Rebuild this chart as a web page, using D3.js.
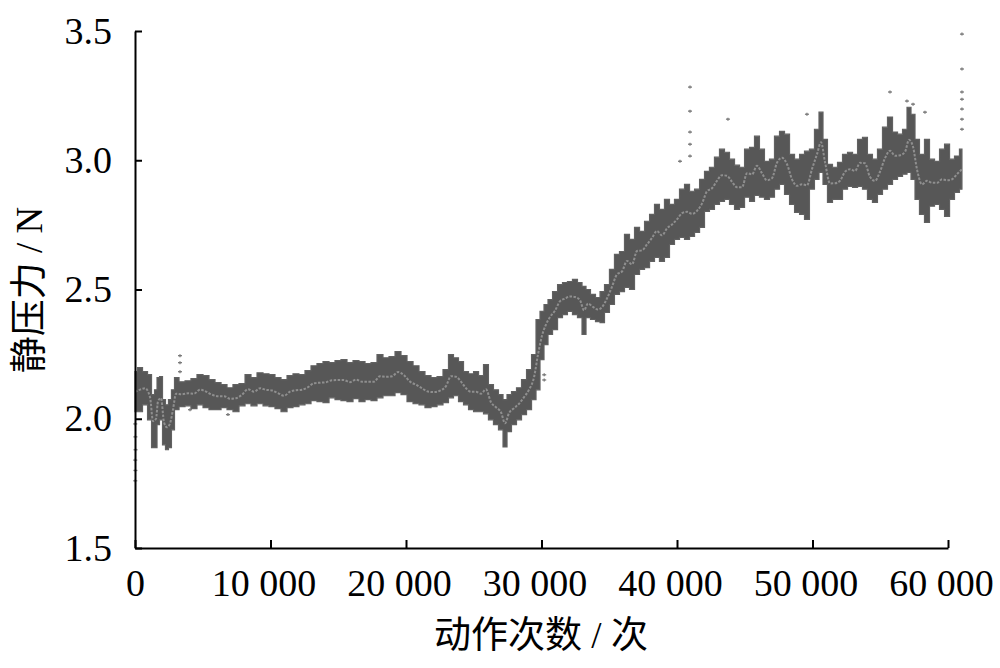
<!DOCTYPE html>
<html>
<head>
<meta charset="utf-8">
<script src="https://cdn.jsdelivr.net/npm/d3@7"></script>
<style>
  html, body { margin: 0; padding: 0; background: #fff; }
  svg { display: block; }
  .lat { font-family: "Liberation Serif", "Times New Roman", "Noto Sans CJK SC", serif; }
</style>
</head>
<body>
<svg id="chart" width="1000" height="668"></svg>
<script>
// ---- data ----
const actionCounts = [0,370,740,1110,1330,1550,1700,1920,2140,2360,2580,2800,3030,3470,3910,4350,4800,5240,5680,6130,6570,7010,7450,7900,8340,8780,9230,9670,10110,10550,11000,11440,11880,12320,12770,13210,13650,14100,14540,14980,15420,15870,16310,16750,17200,17640,18080,18520,18970,19410,19850,20300,20740,21180,21620,22070,22510,22950,23320,23690,24060,24430,24800,25170,25540,25900,26270,26640,27010,27310,27600,27970,28340,28710,29080,29450,29740,30040,30330,30630,31000,31370,31730,32100,32470,32840,33140,33430,33800,34170,34470,34830,35200,35570,35940,36310,36680,37050,37420,37790,38160,38520,38890,39260,39630,40000,40370,40740,41110,41480,41850,42210,42580,42950,43320,43690,44060,44430,44800,45170,45540,45900,46270,46640,47010,47380,47750,48120,48490,48860,49230,49590,49960,50330,50630,50920,51290,51660,52030,52400,52770,53140,53510,53870,54240,54610,54980,55350,55720,56090,56460,56830,57120,57420,57710,58080,58450,58820,59190,59560,59930,60300,60660,61030];

const upperForce = [2.182,2.198,2.182,2.171,2.093,2.112,2.159,2.163,2.074,2.054,2.074,2.112,2.159,2.143,2.147,2.155,2.171,2.167,2.151,2.140,2.132,2.120,2.132,2.136,2.171,2.159,2.178,2.174,2.171,2.159,2.151,2.167,2.174,2.171,2.186,2.205,2.213,2.221,2.217,2.225,2.229,2.217,2.225,2.221,2.213,2.217,2.248,2.236,2.240,2.260,2.244,2.221,2.205,2.182,2.167,2.159,2.163,2.190,2.248,2.236,2.221,2.182,2.174,2.182,2.167,2.209,2.132,2.112,2.093,2.074,2.093,2.105,2.120,2.151,2.190,2.248,2.384,2.415,2.442,2.461,2.492,2.519,2.527,2.531,2.539,2.527,2.512,2.500,2.481,2.469,2.492,2.519,2.578,2.636,2.647,2.713,2.694,2.740,2.725,2.764,2.791,2.829,2.810,2.849,2.829,2.849,2.888,2.907,2.880,2.888,2.926,2.957,2.973,3.012,3.043,3.031,3.004,2.981,2.973,3.043,3.050,3.093,3.043,2.996,3.004,3.093,3.112,3.101,3.023,3.004,3.023,3.035,3.043,3.120,3.186,3.081,2.984,2.973,2.992,3.023,3.031,3.023,3.081,3.089,3.023,3.004,3.043,3.128,3.167,3.109,3.101,3.120,3.205,3.178,3.081,3.023,3.081,3.004,2.996,3.043,3.062,3.004,3.016,3.043];

const lowerForce = [2.027,2.027,2.054,1.996,1.888,1.888,1.977,1.996,1.899,1.880,1.888,1.957,2.035,2.047,2.050,2.039,2.054,2.043,2.035,2.035,2.043,2.035,2.027,2.050,2.058,2.050,2.058,2.050,2.047,2.039,2.027,2.043,2.047,2.054,2.058,2.070,2.066,2.062,2.081,2.074,2.070,2.066,2.078,2.066,2.074,2.070,2.081,2.089,2.089,2.101,2.093,2.066,2.058,2.054,2.043,2.047,2.054,2.062,2.081,2.089,2.066,2.054,2.035,2.027,2.027,2.019,1.996,1.977,1.957,1.891,1.950,1.977,1.996,2.016,2.035,2.074,2.112,2.229,2.287,2.326,2.345,2.391,2.403,2.415,2.403,2.391,2.326,2.391,2.384,2.376,2.372,2.411,2.442,2.481,2.492,2.508,2.500,2.558,2.578,2.585,2.609,2.624,2.609,2.624,2.674,2.694,2.702,2.694,2.705,2.721,2.740,2.802,2.810,2.829,2.841,2.849,2.829,2.810,2.818,2.857,2.841,2.864,2.857,2.849,2.857,2.888,2.907,2.868,2.829,2.798,2.791,2.771,2.888,2.926,2.953,2.907,2.837,2.849,2.849,2.888,2.899,2.895,2.899,2.888,2.849,2.837,2.868,2.888,2.907,2.926,2.938,2.946,2.953,2.926,2.849,2.791,2.760,2.822,2.829,2.810,2.783,2.849,2.876,2.888];

// scattered stray readings
const strayCounts = [20,30,40,20,30,20,3320,3320,3320,4060,6860,30200,30200,40220,40960,40960,40960,40960,40960,43760,49590,55720,56970,57420,58300,61030,61030,61030,61030,61030,61030,61030];
const strayForce  = [1.98,1.93,1.88,1.84,1.80,1.76,2.244,2.217,2.182,2.035,2.016,2.17,2.15,2.996,3.283,3.190,3.109,3.062,3.016,3.159,3.178,3.264,3.229,3.217,3.186,3.488,3.353,3.264,3.236,3.198,3.159,3.120];

const xTicks = [0,10000,20000,30000,40000,50000,60000];
const yTicks = [1.5,2.0,2.5,3.0,3.5];
const xTitle = "动作次数 / 次";
const yTitle = "静压力 / N";

// ---- drawing ----
const svg = d3.select("#chart");
const margin = {left: 135, top: 31, right: 52, bottom: 120};
const W = 1000, H = 668;
const x = d3.scaleLinear().domain([0, 60000]).range([margin.left, W - margin.right]);
const y = d3.scaleLinear().domain([1.5, 3.5]).range([H - margin.bottom, margin.top]);

const rows = actionCounts.map((c, i) => ({c, hi: upperForce[i], lo: lowerForce[i]}));

// band
svg.append("path")
  .datum(rows)
  .attr("fill", "#575757")
  .attr("stroke", "#616161")
  .attr("stroke-width", 1.2)
  .attr("d", d3.area().x(d => x(d.c)).y0(d => y(d.lo)).y1(d => y(d.hi)).curve(d3.curveStep));

// lighter mid trace
svg.append("path")
  .datum(rows)
  .attr("fill", "none")
  .attr("stroke", "#8f8f8f")
  .attr("stroke-width", 2)
  .attr("stroke-dasharray", "2.5,1.5")
  .attr("d", d3.line().x(d => x(d.c)).y(d => y((d.hi + d.lo) / 2)).curve(d3.curveMonotoneX));

// stray points
const strays = strayCounts.map((c, i) => ({c, v: strayForce[i]}));
const sg = svg.append("g").attr("stroke", "#7a7a7a").attr("stroke-width", 1.3);
strays.forEach(d => {
  const px = x(d.c), py = y(d.v);
  sg.append("line").attr("x1", px - 2).attr("x2", px + 2).attr("y1", py).attr("y2", py);
  sg.append("line").attr("x1", px).attr("x2", px).attr("y1", py - 1.5).attr("y2", py + 1.5);
});

// axes
const fmtX = d => d === 0 ? "0" : d3.format(",")(d).replace(/,/g, " ");
const xAxis = svg.append("g")
  .attr("transform", `translate(0,${H - margin.bottom})`)
  .call(d3.axisBottom(x).tickValues(xTicks).tickFormat(fmtX).tickSizeInner(-8).tickSizeOuter(0).tickPadding(21));
const yAxis = svg.append("g")
  .attr("transform", `translate(${margin.left},0)`)
  .call(d3.axisLeft(y).tickValues(yTicks).tickFormat(d3.format(".1f")).tickSizeInner(-7).tickSizeOuter(0).tickPadding(23));

[xAxis, yAxis].forEach(g => {
  g.selectAll("path.domain").attr("stroke", "#000").attr("stroke-width", 2);
  g.selectAll(".tick line").attr("stroke", "#000").attr("stroke-width", 2);
  g.selectAll("text").attr("class", "lat").attr("font-size", 38).attr("fill", "#000");
});
xAxis.selectAll(".tick text").filter(d => d !== 0).attr("dx", -7);

svg.append("text")
  .attr("class", "lat")
  .attr("x", 541).attr("y", 648)
  .attr("text-anchor", "middle")
  .attr("font-size", 37)
  .attr("fill", "#000")
  .text(xTitle);

svg.append("text")
  .attr("class", "lat")
  .attr("transform", "translate(42,290) rotate(-90)")
  .attr("text-anchor", "middle")
  .attr("font-size", 37)
  .attr("fill", "#000")
  .text(yTitle);
</script>
</body>
</html>
